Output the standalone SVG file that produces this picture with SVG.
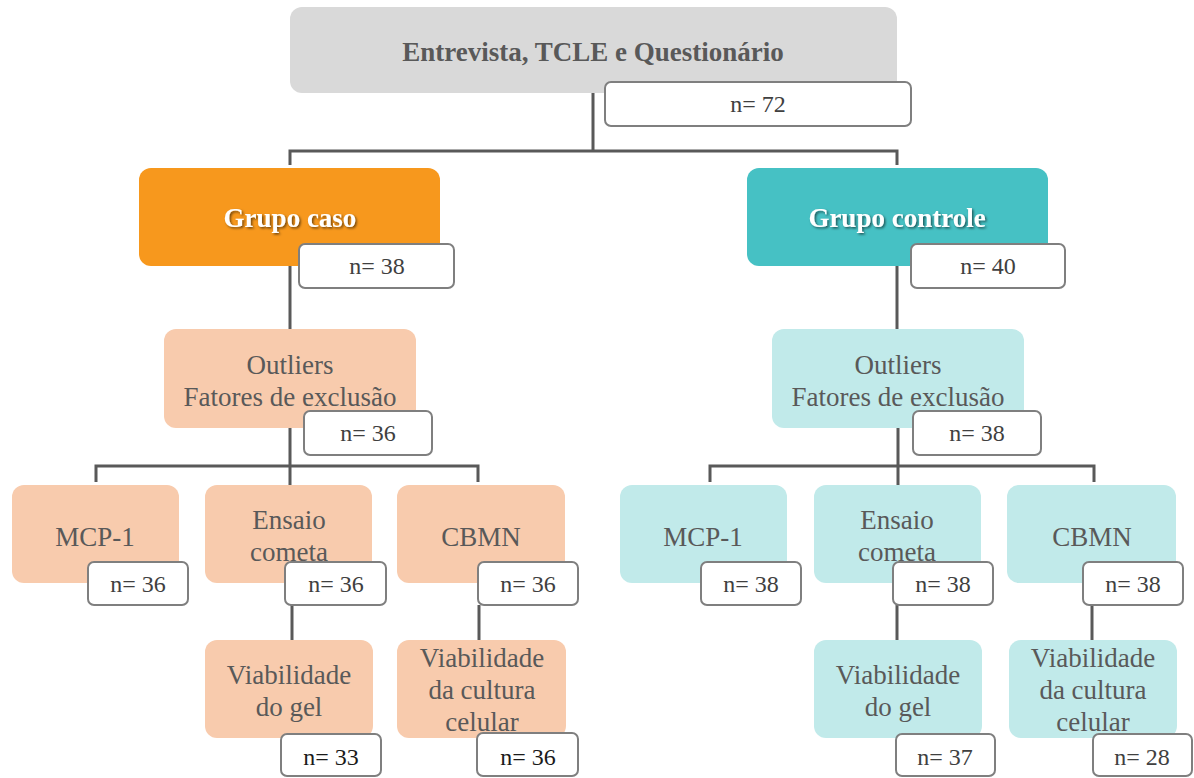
<svg xmlns="http://www.w3.org/2000/svg" width="1194" height="778" viewBox="0 0 1194 778">
<defs>
<filter id="sh" x="-10%" y="-30%" width="120%" height="160%">
<feDropShadow dx="1.5" dy="1.5" stdDeviation="1" flood-color="#000" flood-opacity="0.55"/>
</filter>
<style>
.t{font-family:'Liberation Serif','Tinos','DejaVu Serif','Times New Roman',serif;font-size:27px;fill:#595959;text-anchor:middle}
.b{font-weight:bold}
.w{fill:#ffffff}
.n{font-family:'Liberation Serif','Tinos','DejaVu Serif','Times New Roman',serif;font-size:24px;fill:#404040;text-anchor:middle}
.nb{fill:#ffffff;stroke:#7f7f7f;stroke-width:2}
.c{fill:none;stroke:#595959;stroke-width:3}
.gray{fill:#d9d9d9}
.org{fill:#f7981d}
.teal{fill:#46c1c4}
.peach{fill:#f8cbad}
.lt{fill:#c1eaea}
</style>
</defs>
<rect width="1194" height="778" fill="#ffffff"/>
<g id="connectors">
<path class="c" d="M593 93V151M290 165V151H897V165"/>
<path class="c" d="M290 266V329"/>
<path class="c" d="M897 266V329"/>
<path class="c" d="M290 428V485M96 482V466H478V482"/>
<path class="c" d="M898 428V485M710 482V466H1094V482"/>
<path class="c" d="M292 605V640"/>
<path class="c" d="M479 605V640"/>
<path class="c" d="M897 605V640"/>
<path class="c" d="M1092 605V640"/>
</g>
<g font-family="Liberation Serif, Tinos, DejaVu Serif, serif">
<g id="root">
<rect class="gray" x="290" y="7" width="607" height="86" rx="12"/>
<text class="t b" x="593" y="61">Entrevista, TCLE e Questionário</text>
</g>
<g id="n72"><rect class="nb" x="605" y="82" width="306" height="44" rx="6"/><text class="n" x="758" y="112">n= 72</text></g>
<g id="grupo-caso">
<rect class="org" x="139" y="168" width="301" height="98" rx="12"/>
<text class="t b w" x="290" y="227" filter="url(#sh)">Grupo caso</text>
</g>
<g id="n38-caso"><rect class="nb" x="299" y="244" width="155" height="44" rx="6"/><text class="n" x="377" y="274">n= 38</text></g>
<g id="grupo-controle">
<rect class="teal" x="747" y="168" width="301" height="98" rx="12"/>
<text class="t b w" x="897" y="227" filter="url(#sh)">Grupo controle</text>
</g>
<g id="n40"><rect class="nb" x="911" y="244" width="154" height="44" rx="6"/><text class="n" x="988" y="274">n= 40</text></g>

<g id="outliers-caso">
<rect class="peach" x="164" y="329" width="252" height="99" rx="12"/>
<text class="t" x="290" y="374">Outliers</text>
<text class="t" x="290" y="406">Fatores de exclusão</text>
</g>
<g id="n36-out"><rect class="nb" x="304" y="411" width="128" height="44" rx="6"/><text class="n" x="368" y="441">n= 36</text></g>
<g id="outliers-controle">
<rect class="lt" x="772" y="329" width="252" height="99" rx="12"/>
<text class="t" x="898" y="374">Outliers</text>
<text class="t" x="898" y="406">Fatores de exclusão</text>
</g>
<g id="n38-out"><rect class="nb" x="913" y="411" width="128" height="44" rx="6"/><text class="n" x="977" y="441">n= 38</text></g>

<g id="mcp-caso"><rect class="peach" x="12" y="485" width="167" height="98" rx="12"/><text class="t" x="95" y="546">MCP-1</text></g>
<g id="n36-mcp"><rect class="nb" x="88" y="562" width="100" height="43" rx="6"/><text class="n" x="138" y="592">n= 36</text></g>
<g id="cometa-caso"><rect class="peach" x="205" y="485" width="167" height="98" rx="12"/><text class="t" x="289" y="529">Ensaio</text><text class="t" x="289" y="561">cometa</text></g>
<g id="n36-cometa"><rect class="nb" x="285" y="562" width="101" height="43" rx="6"/><text class="n" x="336" y="592">n= 36</text></g>
<g id="cbmn-caso"><rect class="peach" x="397" y="485" width="168" height="98" rx="12"/><text class="t" x="481" y="546">CBMN</text></g>
<g id="n36-cbmn"><rect class="nb" x="478" y="562" width="100" height="43" rx="6"/><text class="n" x="528" y="592">n= 36</text></g>

<g id="mcp-controle"><rect class="lt" x="620" y="485" width="167" height="98" rx="12"/><text class="t" x="703" y="546">MCP-1</text></g>
<g id="n38-mcp"><rect class="nb" x="701" y="562" width="100" height="43" rx="6"/><text class="n" x="751" y="592">n= 38</text></g>
<g id="cometa-controle"><rect class="lt" x="814" y="485" width="167" height="98" rx="12"/><text class="t" x="897" y="529">Ensaio</text><text class="t" x="897" y="561">cometa</text></g>
<g id="n38-cometa"><rect class="nb" x="893" y="562" width="100" height="43" rx="6"/><text class="n" x="943" y="592">n= 38</text></g>
<g id="cbmn-controle"><rect class="lt" x="1007" y="485" width="169" height="98" rx="12"/><text class="t" x="1092" y="546">CBMN</text></g>
<g id="n38-cbmn"><rect class="nb" x="1083" y="562" width="100" height="43" rx="6"/><text class="n" x="1133" y="592">n= 38</text></g>

<g id="gel-caso"><rect class="peach" x="205" y="640" width="168" height="98" rx="12"/><text class="t" x="289" y="684">Viabilidade</text><text class="t" x="289" y="716">do gel</text></g>
<g id="n33"><rect class="nb" x="281" y="734" width="100" height="42" rx="6"/><text class="n" x="331" y="765" style="fill:#1a1a1a">n= 33</text></g>
<g id="cultura-caso"><rect class="peach" x="397" y="640" width="169" height="98" rx="12"/><text class="t" x="482" y="667">Viabilidade</text><text class="t" x="482" y="699">da cultura</text><text class="t" x="482" y="731">celular</text></g>
<g id="n36-cultura"><rect class="nb" x="477" y="733" width="101" height="43" rx="6"/><text class="n" x="528" y="765" style="fill:#1a1a1a">n= 36</text></g>

<g id="gel-controle"><rect class="lt" x="814" y="640" width="168" height="98" rx="12"/><text class="t" x="898" y="684">Viabilidade</text><text class="t" x="898" y="716">do gel</text></g>
<g id="n37"><rect class="nb" x="896" y="734" width="99" height="42" rx="6"/><text class="n" x="945" y="765">n= 37</text></g>
<g id="cultura-controle"><rect class="lt" x="1009" y="640" width="168" height="98" rx="12"/><text class="t" x="1093" y="667">Viabilidade</text><text class="t" x="1093" y="699">da cultura</text><text class="t" x="1093" y="731">celular</text></g>
<g id="n28"><rect class="nb" x="1093" y="734" width="99" height="42" rx="6"/><text class="n" x="1142" y="765">n= 28</text></g>
</g>
</svg>
